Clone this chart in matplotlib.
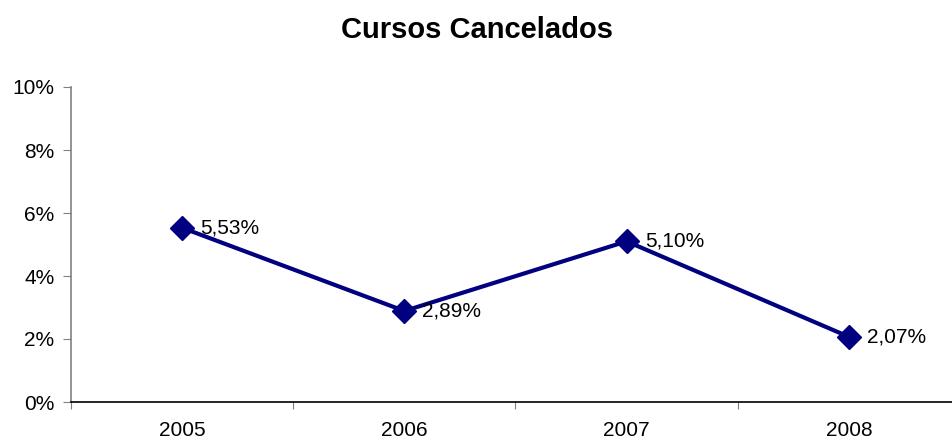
import matplotlib
matplotlib.use("Agg")
import matplotlib.pyplot as plt
from matplotlib.ticker import FuncFormatter

plt.rcParams['font.family'] = ['Liberation Sans', 'DejaVu Sans']

years = ["2005", "2006", "2007", "2008"]
values = [5.53, 2.89, 5.10, 2.07]
labels = ["5,53%", "2,89%", "5,10%", "2,07%"]
yticks = [0, 2, 4, 6, 8, 10]

W, H = 953, 446
fig = plt.figure(figsize=(W/100, H/100), dpi=100)
left, right, bottom, top = 71, 960, 402, 87
ax = fig.add_axes([left/W, 1-bottom/H, (right-left)/W, (bottom-top)/H])

x = list(range(len(years)))
ax.plot(x, values, color='#000080', lw=3, marker='D', ms=12, mfc='#000080', mec='#000080', clip_on=False, zorder=3)
for xi, v, lab in zip(x, values, labels):
    ax.annotate(lab, (xi, v), xytext=(13, 0), textcoords='offset points', va='center', ha='left', fontsize=15)

ax.set_xlim(-0.5, len(years)-0.5)
ax.set_ylim(0, 10)
ax.set_yticks(yticks)
ax.yaxis.set_major_formatter(FuncFormatter(lambda v, p: f"{int(v)}%"))
ax.set_xticks([i-0.5 for i in range(len(years)+1)])
ax.set_xticklabels([])
ax.set_xticks(x, minor=True)
ax.set_xticklabels(years, minor=True)
ax.tick_params(axis='x', which='minor', length=0, labelsize=15, pad=14)
ax.tick_params(axis='x', which='major', length=5, color='#808080', direction='out')
ax.tick_params(axis='y', length=6, color='#808080', labelsize=15, pad=6)

for s in ['top', 'right']:
    ax.spines[s].set_visible(False)
ax.spines['left'].set_color('#808080')
ax.spines['bottom'].set_color('black')
ax.spines['left'].set_linewidth(1.2)
ax.spines['bottom'].set_linewidth(1.2)

fig.text(477/W, 1-30/H, "Cursos Cancelados", ha='center', va='center', fontsize=21, fontweight='bold')

fig.savefig("out.png", dpi=100)
